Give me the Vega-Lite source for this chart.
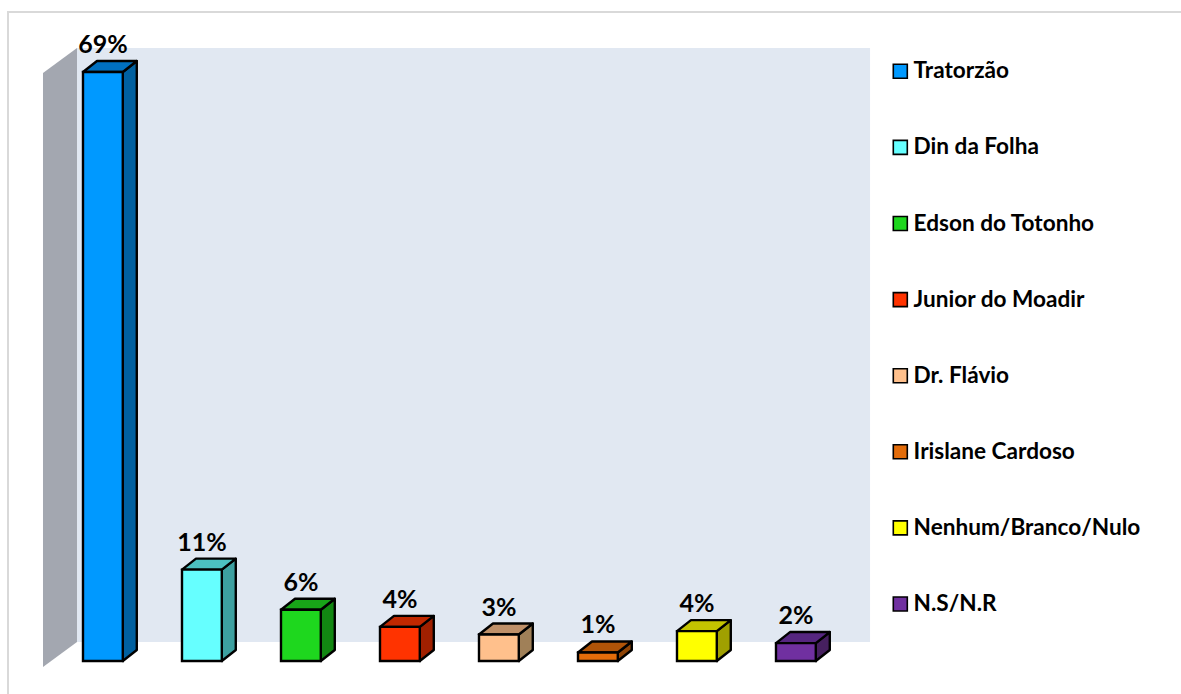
{
"$schema":"https://vega.github.io/schema/vega-lite/v6.json",
"width":1181,"height":694,"padding":0,
"autosize":{"type":"fit","contains":"padding"},
"background":"white",
"config":{"view":{"stroke":null}},
"datasets":{
"bars":[
{"nome":"Tratorzão","i":0,"pct":69,"rotulo":"69%"},
{"nome":"Din da Folha","i":1,"pct":10.7,"rotulo":"11%"},
{"nome":"Edson do Totonho","i":2,"pct":6,"rotulo":"6%"},
{"nome":"Junior do Moadir","i":3,"pct":4,"rotulo":"4%"},
{"nome":"Dr. Flávio","i":4,"pct":3.1,"rotulo":"3%"},
{"nome":"Irislane Cardoso","i":5,"pct":1,"rotulo":"1%"},
{"nome":"Nenhum/Branco/Nulo","i":6,"pct":3.5,"rotulo":"4%"},
{"nome":"N.S/N.R","i":7,"pct":2.1,"rotulo":"2%"}
],
"frame":[{"x":-0.7525,"x2":12,"y":76.03,"y2":-5}],
"wall":[{"x":-0.0556,"x2":7.955,"y":2.226,"y2":71.81}],
"side":[{"x":-0.399,"lo":-0.703,"hi":68.88},{"x":-0.0556,"lo":2.226,"hi":71.81}]
},
"encoding":{},
"layer":[
{"data":{"name":"frame"},"mark":{"type":"rect","fill":null,"stroke":"#d9d9d9","strokeWidth":2,"clip":true},
"encoding":{"x":{"field":"x","type":"quantitative","scale":{"domain":[-0.8333,11.096]},"axis":null},"x2":{"field":"x2"},"y":{"field":"y","type":"quantitative","scale":{"domain":[-3.866,77.44]},"axis":null},"y2":{"field":"y2"}}},
{"data":{"name":"wall"},"mark":{"type":"rect","fill":"#e1e8f2"},
"encoding":{"x":{"field":"x","type":"quantitative","scale":{"domain":[-0.8333,11.096]},"axis":null},"x2":{"field":"x2"},"y":{"field":"y","type":"quantitative","scale":{"domain":[-3.866,77.44]},"axis":null},"y2":{"field":"y2"}}},
{"data":{"name":"side"},"mark":{"type":"area","fill":"#a3a7b0"},
"encoding":{"x":{"field":"x","type":"quantitative","scale":{"domain":[-0.8333,11.096]},"axis":null},"y":{"field":"lo","type":"quantitative","scale":{"domain":[-3.866,77.44]},"axis":null,"stack":null},"y2":{"field":"hi"}}},
{"data":{"name":"bars"},
"transform":[{"calculate":"[0,1]","as":"t"},{"flatten":["t"]},
{"calculate":"datum.i+0.407+0.1414*datum.t","as":"xs"},{"calculate":"1.289*datum.t","as":"lo"},{"calculate":"datum.pct+1.289*datum.t","as":"hi"}],
"mark":{"type":"area","stroke":"black","strokeWidth":2.4,"strokeJoin":"round","fillOpacity":1},
"encoding":{"x":{"field":"xs","type":"quantitative","scale":{"domain":[-0.8333,11.096]},"axis":null},"y":{"field":"lo","type":"quantitative","scale":{"domain":[-3.866,77.44]},"axis":null,"stack":null},"y2":{"field":"hi"},
"color":{"field":"nome","type":"nominal","legend":null,"scale":{"domain":["Tratorzão","Din da Folha","Edson do Totonho","Junior do Moadir","Dr. Flávio","Irislane Cardoso","Nenhum/Branco/Nulo","N.S/N.R"],"range":["#0060a0","#3da0a0","#128712","#a02000","#a08058","#8f4406","#a0a000","#46205f"]}}}},
{"data":{"name":"bars"},
"transform":[{"calculate":"[0,1]","as":"t"},{"flatten":["t"]},
{"calculate":"datum.i+0.005+0.1414*datum.t","as":"xa"},{"calculate":"datum.i+0.407+0.1414*datum.t","as":"xb"},{"calculate":"datum.pct+1.289*datum.t","as":"yt"}],
"mark":{"type":"area","orient":"horizontal","stroke":"black","strokeWidth":2.4,"strokeJoin":"round","fillOpacity":1},
"encoding":{"y":{"field":"yt","type":"quantitative","scale":{"domain":[-3.866,77.44]},"axis":null,"stack":null},"x":{"field":"xa","type":"quantitative","scale":{"domain":[-0.8333,11.096]},"axis":null,"stack":null},"x2":{"field":"xb"},
"color":{"field":"nome","type":"nominal","legend":null,"scale":{"domain":["Tratorzão","Din da Folha","Edson do Totonho","Junior do Moadir","Dr. Flávio","Irislane Cardoso","Nenhum/Branco/Nulo","N.S/N.R"],"range":["#0070c0","#4cc0c0","#18a518","#c02800","#bf9069","#b05408","#c4c400","#562680"]}}}},
{"data":{"name":"bars"},
"transform":[{"calculate":"datum.i+0.005","as":"xa"},{"calculate":"datum.i+0.407","as":"xb"},{"calculate":"0","as":"base"}],
"mark":{"type":"rect","stroke":"black","strokeWidth":2.4},
"encoding":{"x":{"field":"xa","type":"quantitative","scale":{"domain":[-0.8333,11.096]},"axis":null},"x2":{"field":"xb"},"y":{"field":"pct","type":"quantitative","scale":{"domain":[-3.866,77.44]},"axis":null},"y2":{"field":"base"},
"color":{"field":"nome","type":"nominal","scale":{"domain":["Tratorzão","Din da Folha","Edson do Totonho","Junior do Moadir","Dr. Flávio","Irislane Cardoso","Nenhum/Branco/Nulo","N.S/N.R"],"range":["#0099ff","#66ffff","#1ed71e","#ff3300","#ffc08c","#e36c0a","#ffff00","#7030a0"]},
"legend":{"orient":"none","legendX":889,"legendY":60,"title":null,"symbolType":"square","symbolSize":196,"symbolStrokeColor":"black","symbolStrokeWidth":1.6,"symbolOpacity":1,"labelFont":"Lato","labelFontWeight":700,"labelFontSize":22.6,"labelColor":"black","labelOffset":2,"rowPadding":53.1,"labelLimit":300}}}},
{"data":{"name":"bars"},
"transform":[{"calculate":"datum.i+0.206","as":"xc"},{"calculate":"datum.pct+1.289","as":"yl"}],
"mark":{"type":"text","font":"Lato","fontWeight":700,"fontSize":25,"color":"black","baseline":"middle","dy":-16},
"encoding":{"x":{"field":"xc","type":"quantitative","scale":{"domain":[-0.8333,11.096]},"axis":null},"y":{"field":"yl","type":"quantitative","scale":{"domain":[-3.866,77.44]},"axis":null},"text":{"field":"rotulo"}}}
],
"resolve":{"scale":{"color":"independent"}}
}
